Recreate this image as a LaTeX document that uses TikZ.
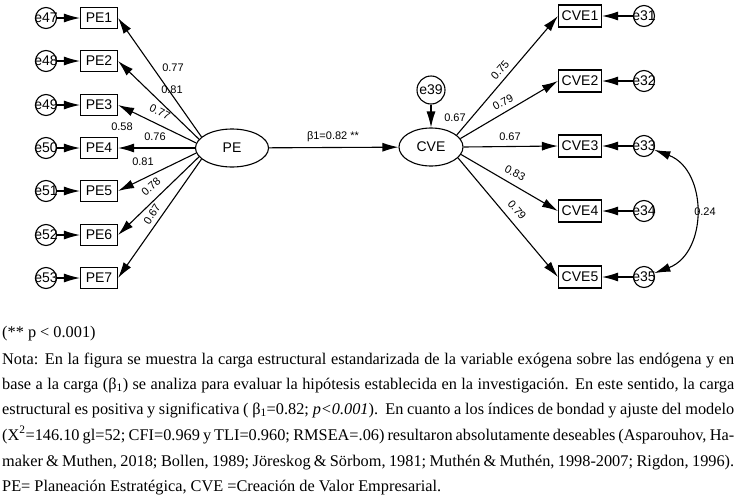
\documentclass[tikz,border=0pt]{standalone}
\usepackage{fontspec}
\setmainfont{Liberation Serif}
\newfontfamily\arialf{Liberation Sans}
\usetikzlibrary{shapes.geometric,arrows.meta}
\begin{document}
\begin{tikzpicture}[x=1pt,y=-1pt,
  obsbox/.style={draw, line width=1.1pt, rectangle, inner sep=0pt, minimum height=21pt, font=\arialf\fontsize{14}{14}\selectfont},
  pebox/.style={obsbox, minimum width=37pt},
  cvebox/.style={obsbox, minimum width=43pt, minimum height=22pt},
  latent/.style={draw, line width=1.1pt, ellipse, inner sep=0pt, minimum height=38pt, font=\arialf\fontsize{14}{14}\selectfont},
  ecirc/.style={draw, line width=1.1pt, circle, inner sep=0pt, minimum size=21pt},
  elab/.style={font=\arialf\fontsize{14}{14}\selectfont, inner sep=0pt},
  arr/.style={line width=1.1pt, -{Latex[length=16pt,width=9pt]}},
  dblarr/.style={line width=1.1pt, {Latex[length=16pt,width=9pt]}-{Latex[length=16pt,width=9pt]}},
  coef/.style={font=\arialf\fontsize{11}{11}\selectfont, inner sep=0pt},
  txt/.style={anchor=base west, inner sep=0pt, font=\fontsize{16.3}{19}\selectfont}
]
\useasboundingbox (0,0) rectangle (736,498);

% ---------- PE side ----------
\node[latent, minimum width=73pt] (PE) at (232,148) {PE};
\foreach \i/\y/\a in {1/18/160, 2/61/165, 3/105/172, 4/148/180, 5/191/188, 6/235/195, 7/278/200}{
  \node[pebox] (PE\i) at (99,\y) {PE\i};
  \draw[arr] (PE.\a) -- (PE\i.east);
}
\foreach \i/\e/\y in {1/47/18, 2/48/61, 3/49/105, 4/50/148, 5/51/191, 6/52/235, 7/53/278}{
  \node[ecirc] (e\e) at (46,\y) {};
  \node[elab] (le\e) at (e\e) {e\e};
  \draw[arr] (e\e) -- (PE\i.west);
}
\node[coef] (c1) at (173,68) {0.77};
\node[coef] (c2) at (172,90) {0.81};
\node[coef, rotate=-27] (c3) at (160,112) {0.77};
\node[coef] (c4) at (122,127) {0.58};
\node[coef] (c5) at (155,137) {0.76};
\node[coef] (c6) at (143,162) {0.81};
\node[coef, rotate=42] (c7) at (151,187) {0.78};
\node[coef, rotate=57] (c8) at (152,214) {0.67};

% ---------- structural ----------
\node[latent, minimum width=64pt] (CVE) at (431,147) {CVE};
\draw[arr] (PE) -- (CVE);
\node[coef] (beta) at (333,137) {β1=0.82 **};
\node[ecirc, minimum size=28pt] (e39) at (431,90) {};
\node[elab] (le39) at (e39) {e39};
\draw[arr] (e39) -- (CVE);
\node[coef] (c39) at (455,118) {0.67};

% ---------- CVE side ----------
\foreach \i/\y/\a in {1/16/25, 2/81/16, 3/146/0, 4/211/-14, 5/277/-22}{
  \node[cvebox] (CVE\i) at (580,\y) {CVE\i};
  \draw[arr] (CVE.\a) -- (CVE\i.west);
}
\foreach \i/\e/\y in {1/31/16, 2/32/81, 3/33/146, 4/34/211, 5/35/277}{
  \node[ecirc] (e\e) at (644,\y) {};
  \node[elab] (le\e) at (e\e) {e\e};
  \draw[arr] (e\e) -- (CVE\i.east);
}
\node[coef, rotate=49] (d1) at (500,70) {0.75};
\node[coef, rotate=29] (d2) at (503,102) {0.79};
\node[coef] (d3) at (510,137) {0.67};
\node[coef, rotate=-28] (d4) at (515,173) {0.83};
\node[coef, rotate=-50] (d5) at (517,210) {0.79};

\draw[dblarr] (e33) .. controls (708,170) and (708,253) .. (e35);
\node[coef] (cov) at (705,212) {0.24};

% ---------- text ----------
\node[txt] (t1) at (2,337) {(** p < 0.001)};
\node[txt] (t2) at (2,364) {\hbox to 732pt{Nota: En la figura se muestra la carga estructural estandarizada de la variable exógena sobre las endógena y en}};
\node[txt] (t3) at (2,389) {\hbox to 732pt{base a la carga (β\textsubscript{1}) se analiza para evaluar la hipótesis establecida en la investigación. En este sentido, la carga}};
\node[txt] (t4) at (2,414) {\hbox to 732pt{estructural es positiva y significativa ( β\textsubscript{1}=0.82; \textit{p<0.001}).\ \ En cuanto a los índices de bondad y ajuste del modelo}};
\node[txt] (t5) at (2,440) {\hbox to 732pt{(X\textsuperscript{2}=146.10 gl=52; CFI=0.969 y TLI=0.960; RMSEA=.06) resultaron absolutamente deseables (Asparouhov, Ha-}};
\node[txt] (t6) at (2,466) {\hbox to 732pt{maker \& Muthen, 2018; Bollen, 1989; Jöreskog \& Sörbom, 1981; Muthén \& Muthén, 1998-2007; Rigdon, 1996).}};
\node[txt] (t7) at (2,491) {PE= Planeación Estratégica, CVE =Creación de Valor Empresarial.};
\end{tikzpicture}
\end{document}
